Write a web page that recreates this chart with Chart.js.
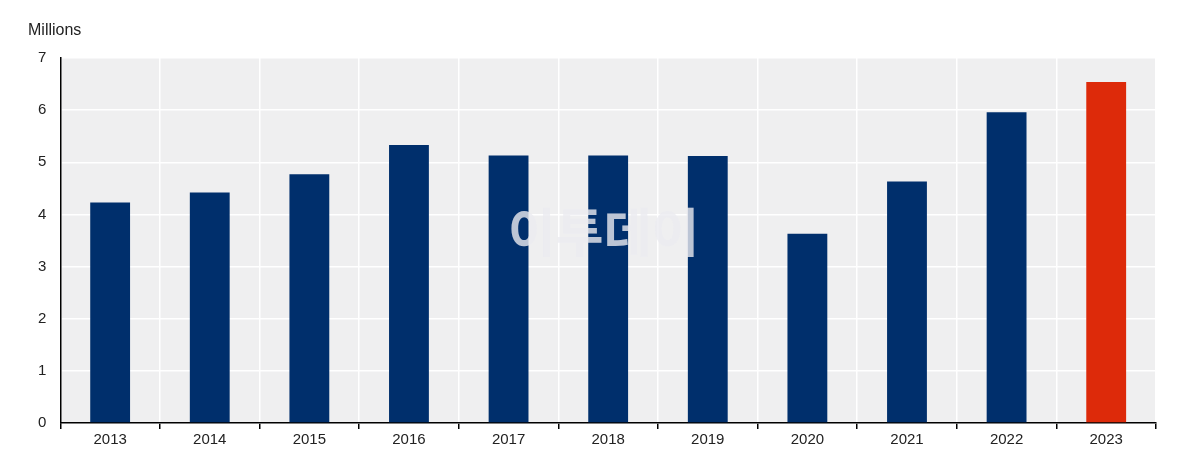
<!DOCTYPE html>
<html>
<head>
<meta charset="utf-8">
<script src="https://cdn.jsdelivr.net/npm/chart.js@4"></script>
<style>
  body { margin: 0; background: #fff; }
  #wrap { width: 1199px; height: 462px; }
</style>
</head>
<body>
<div id="wrap"><canvas id="bar-chart"></canvas></div>
<script>
const years = ['2013', '2014', '2015', '2016', '2017', '2018', '2019', '2020', '2021', '2022', '2023'];
const visitors = [4.23, 4.42, 4.77, 5.33, 5.13, 5.13, 5.12, 3.63, 4.63, 5.96, 6.54];
const yTicks = [0, 1, 2, 3, 4, 5, 6, 7];
const barColors = years.map(y => y == '2023' ? '#dd2a0a' : '#002f6c');

// grey plot area + unit label + watermark
const decor = {
    id: 'decor',
    beforeDraw(chart) {
        const a = chart.chartArea, ctx = chart.ctx;
        ctx.save();
        ctx.fillStyle = '#efeff0';
        ctx.fillRect(a.left, a.top, a.right - a.left, a.bottom - a.top);
        ctx.restore();
    },
    afterDraw(chart) {
        const ctx = chart.ctx;
        ctx.save();
        ctx.fillStyle = '#222';
        ctx.font = '16px "Liberation Sans", Arial, sans-serif';
        ctx.textBaseline = 'middle';
        ctx.fillText('Millions', 28, 31);
        ctx.fillStyle = 'rgba(235,235,240,0.8)';
        ctx.font = 'bold 52px "Noto Sans CJK KR", sans-serif';
        ctx.fillText('이투데이', 508, 232);
        ctx.restore();
    }
};

new Chart(document.getElementById('bar-chart'), {
    type: 'bar',
    data: {
        labels: years,
        datasets: [{
            data: visitors,
            backgroundColor: barColors,
            barPercentage: 0.4,
            categoryPercentage: 1
        }]
    },
    options: {
        responsive: true,
        maintainAspectRatio: false,
        animation: false,
        layout: { padding: { top: 58, right: 43, bottom: 11, left: 24 } },
        plugins: { legend: { display: false }, tooltip: { enabled: false } },
        scales: {
            x: {
                grid: { offset: true, color: '#ffffff', lineWidth: 1.5, drawTicks: true, tickLength: 6, tickColor: '#000' },
                border: { color: '#000', width: 1.5 },
                ticks: { color: '#222', font: { size: 15, family: '"Liberation Sans", Arial' }, padding: 2 }
            },
            y: {
                min: 0, max: 7,
                afterBuildTicks: ax => { ax.ticks = yTicks.map(v => ({ value: v })); },
                grid: { color: '#ffffff', lineWidth: 1.5, drawTicks: false },
                border: { color: '#000', width: 1.5 },
                ticks: { color: '#222', font: { size: 15, family: '"Liberation Sans", Arial' }, padding: 14 }
            }
        }
    },
    plugins: [decor]
});
</script>
</body>
</html>
